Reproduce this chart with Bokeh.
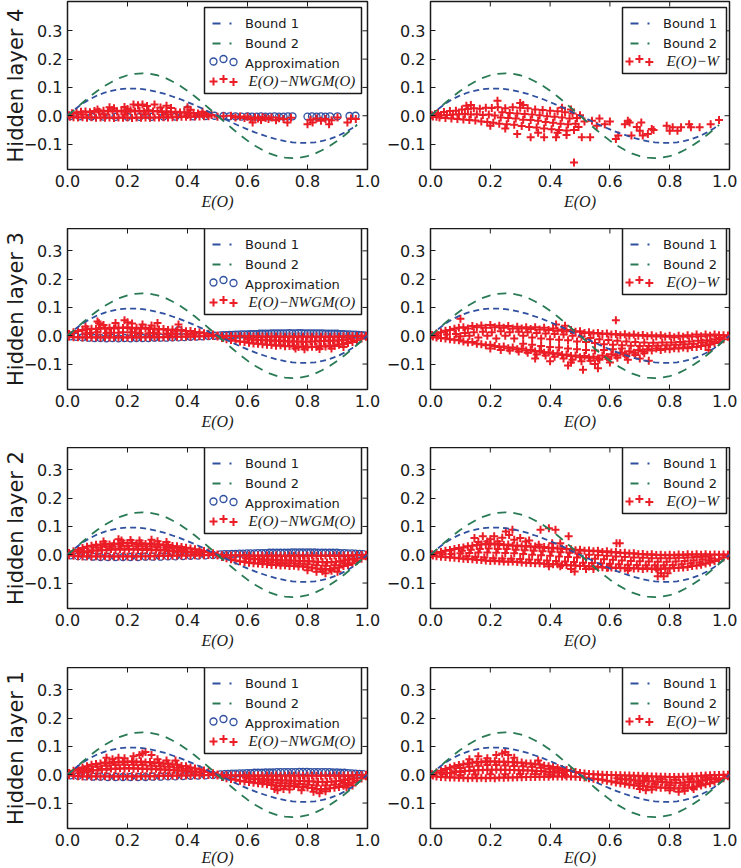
import math
from bokeh.plotting import figure
from bokeh.layouts import column, row
from bokeh.models import Legend, LegendItem, Label, FixedTicker, CustomJSTickFormatter, BoxAnnotation
from bokeh.embed import file_html
from bokeh.resources import INLINE

# ---------------- data ----------------
X_TICKS = [0.0, 0.2, 0.4, 0.6, 0.8, 1.0]
Y_TICKS = [-0.1, 0.0, 0.1, 0.2, 0.3]
ROW_LABELS = ["Hidden layer 4", "Hidden layer 3", "Hidden layer 2", "Hidden layer 1"]
X_LABEL = "E(O)"
LEFT_SERIES = "E(O)\u2212NWGM(O)"
RIGHT_SERIES = "E(O)\u2212W"

BOUND_X = [0, .025, .05, .075, .1, .125, .15, .175, .2, .225, .25, .275, .3, .325, .35, .375, .4, .425,
           .45, .475, .5, .525, .55, .575, .6, .625, .65, .675, .7, .725, .75, .775, .8, .825, .85, .875,
           .9, .925, .95, .975, 1.0]
BOUND1_Y = [0, .023, .043, .059, .072, .082, .089, .094, .096, .096, .094, .09, .084, .077, .068, .059, .048,
            .037, .025, .012, 0, -.012, -.025, -.037, -.048, -.059, -.068, -.077, -.084, -.09, -.094, -.096,
            -.096, -.094, -.089, -.082, -.072, -.059, -.043, -.023, 0]
BOUND2_Y = [0, .023, .046, .068, .088, .106, .121, .134, .143, .148, .15, .148, .143, .134, .121, .106, .088,
            .068, .046, .023, 0, -.023, -.046, -.068, -.088, -.106, -.121, -.134, -.143, -.148, -.15, -.148,
            -.143, -.134, -.121, -.106, -.088, -.068, -.046, -.023, 0]
# top row bounds stop at the largest E(O) of that layer
L4_BOUND_END = (.965, -.031, -.033)

L4_APPROX = [(.01, -.001), (.04, -.002), (.08, -.003), (.12, -.003), (.16, -.004), (.2, -.004), (.24, -.004),
             (.28, -.004), (.32, -.003), (.36, -.003), (.4, .022), (.42, -.002), (.46, -.001), (.49, 0),
             (.52, -.001), (.54, -.002), (.56, -.002), (.58, -.003), (.6, -.002), (.615, -.003), (.63, -.003),
             (.645, -.002), (.66, -.003), (.675, -.003), (.69, -.002), (.705, -.003), (.72, -.003),
             (.735, -.002), (.75, -.002), (.8, -.003), (.815, -.002), (.83, -.003), (.845, -.002),
             (.86, -.003), (.875, -.002), (.9, -.002), (.94, -.001), (.96, 0)]

L4_NWGM = [(.005, .002), (.008, -.004), (.015, .009), (.02, -.005), (.03, .012), (.035, -.006), (.045, .014),
           (.05, -.005), (.06, .015), (.065, -.007), (.075, .012), (.08, -.005), (.09, .017), (.095, -.007),
           (.105, .014), (.11, -.006), (.12, .018), (.125, -.007), (.135, .015), (.14, -.006), (.15, .019),
           (.155, -.008), (.165, .015), (.17, -.006), (.18, .018), (.185, -.007), (.195, .014), (.2, -.006),
           (.21, .019), (.215, -.008), (.225, .015), (.23, -.006), (.24, .018), (.245, -.007), (.255, .014),
           (.26, -.006), (.27, .019), (.275, -.007), (.285, .015), (.29, -.006), (.3, .017), (.305, -.006),
           (.315, .013), (.32, -.005), (.33, .016), (.335, -.006), (.345, .012), (.35, -.005), (.36, .014),
           (.365, -.005), (.375, .011), (.38, -.004), (.39, .012), (.395, -.004), (.405, .009), (.41, -.004),
           (.42, .01), (.425, -.003), (.435, .008), (.44, -.003), (.45, .007), (.455, -.002), (.465, .005),
           (.47, -.002), (.48, .003),
           (.05, .004), (.12, .005), (.19, .004), (.26, .005), (.33, .004), (.4, .003),
           (.1, .022), (.14, .03), (.155, .026), (.19, .031), (.2, .024), (.22, .04), (.235, .037), (.25, .04),
           (.265, .034), (.29, .04), (.31, .029), (.33, .035), (.345, .027), (.4, .03), (.41, .021), (.45, .014),
           (.5, -.004), (.52, -.002), (.545, 0), (.56, -.006), (.575, -.003), (.59, -.008), (.6, -.004),
           (.61, -.012), (.617, -.024), (.625, -.006), (.635, -.01), (.645, -.015), (.65, -.005), (.66, -.008),
           (.67, -.012), (.68, -.006), (.695, -.016), (.705, -.009), (.72, -.012), (.733, -.024), (.745, -.007),
           (.8, -.03), (.81, -.014), (.817, -.024), (.83, -.01), (.845, -.018), (.86, -.012), (.872, -.03),
           (.88, -.016), (.9, -.006), (.933, -.024), (.945, -.01), (.961, -.012)]

L4_W = [(.005, .002), (.008, -.003), (.015, .006), (.02, -.004), (.025, .01), (.03, -.006), (.035, .002),
        (.045, .013), (.05, -.008), (.055, .003), (.065, .017), (.07, -.01), (.075, .004), (.085, .018),
        (.09, -.012), (.095, .005), (.105, .022), (.11, -.013), (.115, .006), (.125, .024), (.13, -.015),
        (.135, .004), (.145, .026), (.15, -.017), (.155, .005), (.165, .025), (.17, -.02), (.175, .003),
        (.185, .028), (.19, -.022), (.195, .004), (.205, .027), (.21, -.025), (.215, .001), (.225, .03),
        (.23, -.028), (.235, -.006), (.24, .012), (.25, .026), (.255, -.03), (.26, -.008), (.265, .01),
        (.275, .03), (.28, -.032), (.285, -.01), (.29, .008), (.3, .028), (.305, -.036), (.31, -.014),
        (.315, .006), (.325, .026), (.33, -.04), (.335, -.015), (.34, .004), (.35, .022), (.355, -.042),
        (.36, -.018), (.365, .002), (.375, .02), (.38, -.045), (.385, -.022), (.39, -.002), (.4, .018),
        (.405, -.048), (.41, -.025), (.415, -.004), (.425, .016), (.43, -.05), (.435, -.028), (.44, -.006),
        (.45, .012), (.455, -.052), (.46, -.03), (.465, -.01), (.475, .008), (.48, -.05), (.485, -.028),
        (.49, -.008), (.5, .002), (.495, -.04),
        (.224, .053), (.12, .035), (.135, .038), (.3, .045), (.31, .038), (.44, .028), (.47, .022),
        (.48, -.165), (.29, -.065), (.335, -.076), (.36, -.06), (.38, -.076), (.42, -.076), (.425, -.06),
        (.455, -.068), (.2, -.035), (.25, -.045),
        (.506, -.076), (.515, -.02), (.534, -.076), (.54, -.018), (.556, -.035), (.565, -.01), (.583, -.03),
        (.6, -.02), (.62, -.082), (.628, -.07), (.65, -.03), (.66, -.018), (.666, -.024), (.672, -.07),
        (.69, -.04), (.7, -.053), (.705, -.024), (.71, -.07), (.727, -.065), (.74, -.047), (.746, -.05),
        (.79, -.035), (.8, -.053), (.81, -.041), (.826, -.053), (.838, -.041), (.865, -.03), (.871, -.041),
        (.9, -.041), (.937, -.03), (.965, -.015)]

L3_APPROX = [(.01, -.002), (.03, -.004), (.05, -.006), (.07, -.007), (.09, -.008), (.11, -.008), (.13, -.009),
             (.15, -.008), (.17, -.009), (.19, -.008), (.21, -.009), (.23, -.008), (.25, -.008), (.27, -.008),
             (.29, -.007), (.31, -.007), (.33, -.007), (.35, -.006), (.37, -.006), (.37, .02), (.39, -.005),
             (.41, -.004), (.43, -.003), (.45, -.002), (.47, -.001), (.49, 0), (.51, .001), (.53, .002),
             (.55, .003), (.57, .004), (.59, .005), (.61, .006), (.63, .006), (.65, .007), (.67, .007),
             (.69, .008), (.71, .008), (.73, .008), (.75, .008), (.77, .009), (.79, .008), (.81, .008),
             (.83, .008), (.85, .008), (.87, .007), (.89, .007), (.91, .006), (.93, .005), (.95, .004),
             (.97, .003), (.99, .001)]
L3_APPROX_FILL = [(.52, .002), (.54, .003), (.56, .004), (.58, .005), (.6, .005), (.62, .006), (.64, .007),
                  (.66, .007), (.68, .008), (.7, .008), (.72, .008), (.74, .009), (.76, .008), (.78, .009),
                  (.8, .008), (.82, .008), (.84, .008), (.86, .007), (.88, .007), (.9, .007), (.92, .006),
                  (.94, .005), (.96, .004), (.98, .002)]

L3_NWGM = [(.005, -.003), (.005, .006), (.02, -.005), (.02, .012), (.035, -.005), (.035, .017), (.05, -.006),
           (.05, .02), (.065, -.005), (.065, .023), (.08, -.006), (.08, .025), (.095, -.005), (.095, .024),
           (.11, -.006), (.11, .027), (.125, -.005), (.125, .025), (.14, -.006), (.14, .028), (.155, -.005),
           (.155, .026), (.17, -.006), (.17, .029), (.185, -.005), (.185, .027), (.2, -.006), (.2, .03),
           (.215, -.005), (.215, .026), (.23, -.006), (.23, .028), (.245, -.005), (.245, .025), (.26, -.005),
           (.26, .027), (.275, -.005), (.275, .024), (.29, -.005), (.29, .026), (.305, -.005), (.305, .022),
           (.32, -.005), (.32, .024), (.335, -.004), (.335, .02), (.35, -.005), (.35, .022), (.365, -.004),
           (.365, .018), (.38, -.004), (.38, .02), (.395, -.003), (.395, .016), (.41, -.003), (.41, .017),
           (.425, -.003), (.425, .013), (.44, -.002), (.44, .012), (.455, -.002), (.455, .009), (.47, -.001),
           (.47, .007), (.485, -.001), (.485, .004),
           (.06, .008), (.13, .01), (.21, .012), (.27, .009), (.33, .007), (.4, .006), (.1, .012), (.17, .011),
           (.24, .01), (.3, .008), (.36, .007),
           (.1, .05), (.105, .044), (.16, .045), (.19, .055), (.2, .048), (.215, .043), (.3, .045), (.37, .04),
           (.25, .04), (.12, .038), (.06, .033), (.28, .036),
           (.5, .001), (.5, -.003), (.515, -.001), (.515, -.008), (.53, -.001), (.53, -.012), (.545, -.001),
           (.545, -.015), (.56, -.002), (.56, -.018), (.575, -.002), (.575, -.02), (.59, -.002), (.59, -.022),
           (.605, -.002), (.605, -.025), (.62, -.003), (.62, -.027), (.635, -.002), (.635, -.028),
           (.65, -.003), (.65, -.03), (.665, -.003), (.665, -.032), (.68, -.003), (.68, -.033), (.695, -.003),
           (.695, -.035), (.71, -.003), (.71, -.034), (.725, -.004), (.725, -.037), (.74, -.003), (.74, -.036),
           (.755, -.004), (.755, -.038), (.77, -.003), (.77, -.04), (.785, -.004), (.785, -.038), (.8, -.003),
           (.8, -.041), (.815, -.004), (.815, -.039), (.83, -.003), (.83, -.04), (.845, -.004), (.845, -.037),
           (.86, -.003), (.86, -.038), (.875, -.004), (.875, -.035), (.89, -.003), (.89, -.036), (.905, -.003),
           (.905, -.032), (.92, -.002), (.92, -.03), (.935, -.002), (.935, -.026), (.95, -.001), (.95, -.022),
           (.965, -.001), (.965, -.016), (.98, 0), (.98, -.01), (.995, 0), (.995, -.004),
           (.6, -.012), (.63, -.014), (.66, -.016), (.69, -.018), (.72, -.019), (.75, -.02), (.78, -.021),
           (.81, -.02), (.84, -.019), (.87, -.018), (.9, -.017), (.93, -.013),
           (.79, -.048), (.84, -.047), (.88, -.045), (.92, -.04), (.76, -.045)]
L3_NWGM_FILL = [(.615, -.013), (.645, -.015), (.675, -.017), (.705, -.018), (.735, -.02), (.765, -.02),
                (.795, -.021), (.825, -.02), (.855, -.019), (.885, -.018), (.915, -.015), (.945, -.011),
                (.075, .01), (.145, .011), (.185, .012), (.225, .011), (.285, .01), (.345, .008), (.42, .006)]

L3_W = [(.005, .003), (.008, -.003), (.02, .008), (.02, -.006), (.025, .0), (.035, .012), (.035, -.008),
        (.05, .018), (.05, -.01), (.055, .004), (.065, .02), (.065, -.012), (.08, .025), (.08, -.014),
        (.085, .006), (.095, .028), (.095, -.016), (.1, -.002), (.11, .03), (.11, -.02), (.115, .01),
        (.125, .026), (.125, -.024), (.13, .0), (.14, .034), (.14, -.022), (.145, .012), (.155, .03),
        (.155, -.028), (.16, -.006), (.17, .036), (.17, -.03), (.175, .014), (.185, .028), (.185, -.034),
        (.19, .0), (.2, .038), (.2, -.032), (.205, .012), (.2, -.045), (.215, .03), (.215, -.036),
        (.22, -.01), (.23, .035), (.23, -.04), (.235, .016), (.235, -.05), (.245, .028), (.245, -.038),
        (.25, .0), (.26, .034), (.26, -.044), (.265, .012), (.265, -.052), (.275, .026), (.275, -.042),
        (.28, -.01), (.29, .032), (.29, -.048), (.295, .014), (.295, -.056), (.305, .026), (.305, -.046),
        (.31, .0), (.31, -.028), (.32, .03), (.32, -.052), (.325, .012), (.325, -.06), (.335, .024),
        (.335, -.05), (.34, -.006), (.34, -.032), (.35, .03), (.35, -.056), (.355, .01), (.355, -.066),
        (.365, .022), (.365, -.054), (.37, -.01), (.37, -.036), (.38, .028), (.38, -.06), (.385, .008),
        (.385, -.07), (.395, .02), (.395, -.058), (.4, -.012), (.4, -.04), (.41, .026), (.41, -.064),
        (.415, .006), (.415, -.074), (.425, .018), (.425, -.062), (.43, -.014), (.43, -.042), (.44, .022),
        (.44, -.068), (.445, .004), (.445, -.08), (.455, .016), (.455, -.066), (.46, -.016), (.46, -.045),
        (.47, .02), (.47, -.072), (.475, .0), (.475, -.085), (.485, .014), (.485, -.07), (.49, -.02),
        (.49, -.048), (.5, .016), (.5, -.076), (.505, -.004), (.505, -.09), (.515, .01), (.515, -.072),
        (.52, -.022), (.52, -.05), (.53, .012), (.53, -.078), (.535, -.008), (.535, -.088), (.545, .008),
        (.545, -.074), (.55, -.026), (.55, -.052), (.56, .01), (.56, -.08), (.565, -.012), (.565, -.085),
        (.575, .006), (.575, -.07), (.58, -.03), (.58, -.05), (.59, .008), (.59, -.075), (.595, -.015),
        (.595, -.082), (.605, .004), (.605, -.065), (.61, -.032), (.61, -.048), (.62, .006), (.62, -.07),
        (.625, -.018), (.625, -.078), (.635, .002), (.635, -.06), (.64, -.034), (.64, -.045), (.65, .005),
        (.65, -.065), (.655, -.02), (.655, -.072), (.665, .0), (.665, -.055), (.67, -.035), (.68, .004),
        (.68, -.06), (.685, -.022), (.685, -.068), (.695, .0), (.695, -.05), (.7, -.036), (.71, .003),
        (.71, -.055), (.715, -.024), (.715, -.062), (.725, -.002), (.725, -.048), (.73, -.036), (.74, .002),
        (.74, -.052), (.745, -.025), (.755, -.003), (.755, -.045), (.76, -.035), (.77, .002), (.77, -.05),
        (.775, -.024), (.785, -.004), (.785, -.046), (.79, -.034), (.8, .0), (.8, -.048), (.805, -.024),
        (.815, -.005), (.815, -.044), (.82, -.032), (.83, .0), (.83, -.045), (.835, -.022), (.845, -.004),
        (.845, -.042), (.85, -.03), (.86, .002), (.86, -.044), (.865, -.02), (.875, -.003), (.875, -.04),
        (.88, -.028), (.89, .004), (.89, -.04), (.895, -.018), (.905, -.002), (.905, -.036), (.91, -.024),
        (.92, .004), (.92, -.034), (.925, -.016), (.935, .0), (.935, -.03), (.94, -.02), (.95, .004),
        (.95, -.026), (.955, -.012), (.965, .002), (.965, -.02), (.97, -.008), (.98, .002), (.98, -.012),
        (.995, .001), (.995, -.004),
        (.1, .06), (.62, .055), (.51, -.12), (.56, -.115), (.46, -.105), (.47, -.095), (.42, .04), (.45, .035),
        (.35, -.08), (.4, -.09), (.55, -.1), (.6, -.095), (.66, -.085), (.7, -.08), (.73, -.088), (.93, -.05)]

L2_APPROX = [(.01, -.002), (.035, -.005), (.06, -.006), (.085, -.007), (.11, -.008), (.135, -.008),
             (.16, -.008), (.185, -.008), (.21, -.008), (.235, -.008), (.26, -.007), (.285, -.007),
             (.31, -.007), (.335, -.006), (.36, -.006), (.385, -.005), (.41, -.004), (.435, -.003),
             (.46, -.002), (.485, -.001), (.51, .001), (.535, .002), (.56, .003), (.585, .004), (.61, .005),
             (.635, .006), (.66, .006), (.685, .007), (.71, .007), (.735, .007), (.76, .008), (.785, .008),
             (.81, .008), (.835, .007), (.86, .007), (.885, .007), (.91, .006), (.935, .005), (.96, .004),
             (.985, .002)]
L2_APPROX_FILL = [(.523, .002), (.548, .003), (.573, .004), (.598, .005), (.623, .005), (.648, .006),
                  (.673, .007), (.698, .007), (.723, .007), (.748, .008), (.773, .008), (.798, .008),
                  (.823, .008), (.848, .007), (.873, .007), (.898, .007), (.923, .006), (.948, .005),
                  (.973, .003)]

L2_NWGM = [(.005, -.002), (.005, .006), (.02, -.004), (.02, .012), (.035, -.005), (.035, .018), (.04, .007),
           (.05, -.006), (.05, .024), (.065, -.005), (.065, .028), (.07, .01), (.08, -.006), (.08, .032),
           (.095, -.005), (.095, .035), (.1, .014), (.11, -.006), (.11, .034), (.125, -.005), (.125, .038),
           (.13, .016), (.14, -.006), (.14, .036), (.155, -.005), (.155, .04), (.16, .018), (.17, -.006),
           (.17, .038), (.185, -.005), (.185, .042), (.19, .018), (.2, -.006), (.2, .04), (.215, -.005),
           (.215, .042), (.22, .018), (.23, -.006), (.23, .038), (.245, -.005), (.245, .041), (.25, .017),
           (.26, -.005), (.26, .038), (.275, -.005), (.275, .04), (.28, .016), (.29, -.005), (.29, .036),
           (.305, -.004), (.305, .037), (.31, .015), (.32, -.004), (.32, .034), (.335, -.004), (.335, .035),
           (.34, .013), (.35, -.004), (.35, .031), (.365, -.003), (.365, .03), (.37, .011), (.38, -.003),
           (.38, .027), (.395, -.003), (.395, .025), (.4, .01), (.41, -.003), (.41, .022), (.425, -.002),
           (.425, .019), (.43, .007), (.44, -.002), (.44, .016), (.455, -.002), (.455, .013), (.47, -.001),
           (.47, .009), (.485, -.001), (.485, .005),
           (.17, .055), (.18, .05), (.28, .053), (.3, .048), (.24, .05), (.12, .047), (.21, .052), (.33, .045),
           (.5, .001), (.5, -.003), (.515, -.002), (.515, -.008), (.53, -.002), (.53, -.012), (.545, -.003),
           (.545, -.016), (.56, -.002), (.56, -.02), (.575, -.003), (.575, -.023), (.59, -.003), (.59, -.026),
           (.595, -.012), (.605, -.003), (.605, -.028), (.62, -.004), (.62, -.03), (.625, -.015), (.635, -.003),
           (.635, -.031), (.65, -.004), (.65, -.033), (.655, -.017), (.665, -.003), (.665, -.034), (.68, -.004),
           (.68, -.036), (.685, -.018), (.695, -.003), (.695, -.035), (.71, -.004), (.71, -.038), (.715, -.02),
           (.725, -.004), (.725, -.037), (.74, -.003), (.74, -.04), (.745, -.02), (.755, -.004), (.755, -.039),
           (.77, -.003), (.77, -.042), (.775, -.022), (.785, -.004), (.785, -.041), (.8, -.004), (.8, -.044),
           (.805, -.023), (.815, -.003), (.815, -.046), (.83, -.004), (.83, -.049), (.835, -.025), (.845, -.004),
           (.845, -.05), (.86, -.003), (.86, -.052), (.865, -.027), (.875, -.004), (.875, -.05), (.89, -.003),
           (.89, -.048), (.895, -.025), (.905, -.004), (.905, -.045), (.92, -.003), (.92, -.04), (.925, -.02),
           (.935, -.003), (.935, -.036), (.95, -.002), (.95, -.03), (.955, -.015), (.965, -.002), (.965, -.022),
           (.98, -.001), (.98, -.014), (.995, 0), (.995, -.005),
           (.83, -.06), (.86, -.065), (.9, -.06), (.88, -.057), (.85, -.058), (.8, -.055)]
L2_NWGM_FILL = [(.055, .012), (.085, .016), (.115, .018), (.145, .02), (.175, .02), (.205, .021), (.235, .02),
                (.265, .02), (.295, .018), (.325, .017), (.355, .015), (.385, .013), (.415, .011), (.445, .008),
                (.1, .026), (.13, .028), (.15, .03), (.18, .03), (.2, .031), (.23, .03), (.25, .03), (.28, .029),
                (.3, .028), (.33, .026), (.35, .024), (.38, .02),
                (.61, -.014), (.64, -.016), (.67, -.018), (.7, -.019), (.73, -.02), (.76, -.021), (.79, -.022),
                (.82, -.024), (.85, -.026), (.88, -.026), (.91, -.023), (.94, -.017),
                (.65, -.024), (.68, -.027), (.71, -.029), (.74, -.03), (.77, -.032), (.8, -.034), (.83, -.037),
                (.86, -.039), (.89, -.037), (.92, -.03)]

L2_W = [(.005, .002), (.008, -.003), (.02, .006), (.02, -.005), (.035, .01), (.035, -.007), (.04, .002),
        (.05, .014), (.05, -.008), (.065, .017), (.065, -.01), (.07, .003), (.08, .02), (.08, -.011),
        (.095, .024), (.095, -.012), (.1, .005), (.11, .026), (.11, -.014), (.125, .03), (.125, -.015),
        (.13, .006), (.14, .032), (.14, -.016), (.155, .034), (.155, -.018), (.16, .008), (.17, .036),
        (.17, -.019), (.185, .038), (.185, -.02), (.19, .008), (.2, .04), (.2, -.022), (.215, .036),
        (.215, -.021), (.22, .007), (.23, .038), (.23, -.023), (.245, .034), (.245, -.024), (.25, .006),
        (.26, .036), (.26, -.025), (.275, .032), (.275, -.024), (.28, .005), (.29, .033), (.29, -.026),
        (.305, .03), (.305, -.027), (.31, .003), (.32, .031), (.32, -.028), (.335, .028), (.335, -.029),
        (.34, .0), (.35, .029), (.35, -.03), (.365, .026), (.365, -.03), (.37, -.002), (.38, .027),
        (.38, -.032), (.395, .024), (.395, -.033), (.4, -.004), (.41, .025), (.41, -.034), (.425, .022),
        (.425, -.034), (.43, -.006), (.44, .022), (.44, -.036), (.455, .02), (.455, -.036), (.46, -.008),
        (.47, .019), (.47, -.038), (.485, .016), (.485, -.038), (.49, -.01), (.5, .017), (.5, -.04),
        (.515, .014), (.515, -.04), (.52, -.012), (.53, .015), (.53, -.042), (.545, .012), (.545, -.042),
        (.55, -.014), (.56, .014), (.56, -.044), (.575, .01), (.575, -.044), (.58, -.016), (.59, .012),
        (.59, -.046), (.605, .008), (.605, -.045), (.61, -.018), (.62, .01), (.62, -.047), (.635, .006),
        (.635, -.046), (.64, -.02), (.65, .007), (.65, -.048), (.665, .004), (.665, -.047), (.67, -.022),
        (.68, .005), (.68, -.049), (.695, .002), (.695, -.048), (.7, -.023), (.71, .003), (.71, -.05),
        (.725, .0), (.725, -.048), (.73, -.024), (.74, .002), (.74, -.05), (.755, -.001), (.755, -.049),
        (.76, -.025), (.77, .0), (.77, -.05), (.785, -.002), (.785, -.048), (.79, -.025), (.8, .0),
        (.8, -.049), (.815, -.002), (.815, -.047), (.82, -.024), (.83, .001), (.83, -.046), (.845, -.001),
        (.845, -.045), (.85, -.022), (.86, .002), (.86, -.043), (.875, .0), (.875, -.04), (.88, -.02),
        (.89, .002), (.89, -.038), (.905, .0), (.905, -.035), (.91, -.017), (.92, .002), (.92, -.031),
        (.935, .0), (.935, -.027), (.94, -.013), (.95, .001), (.95, -.022), (.965, .0), (.965, -.016),
        (.98, .001), (.98, -.01), (.995, 0), (.995, -.004),
        (.147, .059), (.175, .065), (.19, .047), (.213, .065), (.224, .047), (.252, .082), (.263, .07),
        (.274, .088), (.28, .053), (.3, .059), (.318, .047), (.362, .035), (.368, .088), (.396, .094),
        (.418, .088), (.407, .041), (.462, .065), (.434, .041), (.5, .018), (.622, .041), (.633, .041),
        (.16, .045), (.2, .055), (.24, .06), (.33, .05),
        (.482, -.059), (.396, -.041), (.434, -.041), (.545, -.05), (.594, -.045), (.76, -.053), (.76, -.076),
        (.771, -.065), (.78, -.076), (.793, -.065), (.66, -.055), (.52, -.05), (.47, -.05)]
L2_W_FILL = [(.105, .014), (.135, .018), (.165, .02), (.195, .022), (.225, .02), (.255, .02), (.285, .018),
             (.315, .016), (.345, .014), (.375, .012), (.405, .011), (.435, .009), (.465, .007), (.495, .004),
             (.12, -.006), (.15, -.008), (.18, -.01), (.21, -.012), (.24, -.013), (.27, -.014), (.3, -.015),
             (.33, -.017), (.36, -.018), (.39, -.02), (.42, -.022), (.45, -.024), (.48, -.026), (.51, -.028),
             (.54, -.029), (.57, -.03), (.6, -.032), (.63, -.034), (.66, -.035), (.69, -.036), (.72, -.037),
             (.75, -.037), (.78, -.037), (.81, -.036), (.84, -.034), (.87, -.03), (.9, -.027), (.93, -.02),
             (.53, .0), (.56, -.002), (.59, -.004), (.62, -.006), (.65, -.008), (.68, -.01), (.71, -.011),
             (.74, -.012), (.77, -.012), (.8, -.012), (.83, -.011), (.86, -.01), (.89, -.008), (.92, -.006)]

L1_APPROX = [(.01, -.002), (.035, -.004), (.06, -.006), (.085, -.007), (.11, -.007), (.135, -.008),
             (.16, -.008), (.185, -.008), (.21, -.008), (.235, -.008), (.26, -.008), (.285, -.007),
             (.31, -.007), (.335, -.006), (.36, -.006), (.385, -.005), (.41, -.004), (.435, -.003),
             (.46, -.002), (.485, -.001), (.51, .001), (.535, .003), (.56, .004), (.585, .005), (.61, .006),
             (.635, .007), (.66, .008), (.685, .008), (.71, .009), (.735, .009), (.76, .009), (.785, .01),
             (.81, .009), (.835, .009), (.86, .009), (.885, .008), (.91, .007), (.935, .006), (.96, .004),
             (.985, .002)]
L1_APPROX_FILL = [(.523, .002), (.548, .004), (.573, .005), (.598, .006), (.623, .007), (.648, .007),
                  (.673, .008), (.698, .009), (.723, .009), (.748, .009), (.773, .01), (.798, .01),
                  (.823, .009), (.848, .009), (.873, .009), (.898, .008), (.923, .007), (.948, .005),
                  (.973, .003)]

L1_NWGM = [(.005, -.002), (.005, .006), (.02, -.004), (.02, .014), (.035, -.005), (.035, .02), (.04, .007),
           (.05, -.006), (.05, .026), (.065, -.005), (.065, .03), (.07, .011), (.08, -.006), (.08, .035),
           (.095, -.005), (.095, .038), (.1, .015), (.11, -.006), (.11, .04), (.125, -.005), (.125, .043),
           (.13, .018), (.14, -.006), (.14, .041), (.155, -.005), (.155, .045), (.16, .02), (.17, -.006),
           (.17, .043), (.185, -.005), (.185, .047), (.19, .021), (.2, -.006), (.2, .045), (.215, -.005),
           (.215, .048), (.22, .021), (.23, -.006), (.23, .044), (.245, -.005), (.245, .047), (.25, .02),
           (.26, -.005), (.26, .043), (.275, -.005), (.275, .045), (.28, .019), (.29, -.005), (.29, .041),
           (.305, -.004), (.305, .043), (.31, .018), (.32, -.004), (.32, .039), (.335, -.004), (.335, .04),
           (.34, .016), (.35, -.004), (.35, .036), (.365, -.003), (.365, .035), (.37, .014), (.38, -.003),
           (.38, .031), (.395, -.003), (.395, .03), (.4, .012), (.41, -.003), (.41, .026), (.425, -.002),
           (.425, .022), (.43, .009), (.44, -.002), (.44, .019), (.455, -.002), (.455, .015), (.47, -.001),
           (.47, .01), (.485, -.001), (.485, .005),
           (.13, .06), (.17, .06), (.24, .07), (.25, .075), (.26, .08), (.28, .07), (.22, .065), (.15, .055),
           (.19, .058), (.3, .055), (.33, .05), (.36, .05),
           (.5, .001), (.5, -.003), (.515, -.002), (.515, -.008), (.53, -.002), (.53, -.012), (.545, -.003),
           (.545, -.015), (.56, -.002), (.56, -.018), (.575, -.003), (.575, -.021), (.59, -.003), (.59, -.024),
           (.595, -.011), (.605, -.003), (.605, -.026), (.62, -.004), (.62, -.028), (.625, -.014), (.635, -.003),
           (.635, -.03), (.65, -.004), (.65, -.032), (.655, -.016), (.665, -.003), (.665, -.034), (.68, -.004),
           (.68, -.036), (.685, -.018), (.695, -.003), (.695, -.038), (.71, -.004), (.71, -.04), (.715, -.02),
           (.725, -.004), (.725, -.039), (.74, -.003), (.74, -.042), (.745, -.021), (.755, -.004), (.755, -.04),
           (.77, -.003), (.77, -.043), (.775, -.022), (.785, -.004), (.785, -.042), (.8, -.004), (.8, -.045),
           (.805, -.023), (.815, -.003), (.815, -.047), (.83, -.004), (.83, -.05), (.835, -.025), (.845, -.004),
           (.845, -.052), (.86, -.003), (.86, -.05), (.865, -.025), (.875, -.004), (.875, -.048), (.89, -.003),
           (.89, -.046), (.895, -.023), (.905, -.004), (.905, -.043), (.92, -.003), (.92, -.039), (.925, -.019),
           (.935, -.003), (.935, -.034), (.95, -.002), (.95, -.028), (.955, -.013), (.965, -.002),
           (.965, -.021), (.98, -.001), (.98, -.013), (.995, 0), (.995, -.005),
           (.7, -.055), (.72, -.05), (.74, -.052), (.82, -.06), (.84, -.065), (.86, -.058), (.93, -.045),
           (.95, -.038), (.69, -.05), (.78, -.055)]
L1_NWGM_FILL = [(.055, .013), (.085, .017), (.115, .02), (.145, .022), (.175, .023), (.205, .024), (.235, .023),
                (.265, .022), (.295, .021), (.325, .019), (.355, .017), (.385, .015), (.415, .012), (.445, .009),
                (.07, .02), (.1, .028), (.13, .032), (.16, .034), (.19, .035), (.22, .035), (.25, .034),
                (.28, .032), (.31, .03), (.34, .028), (.37, .025), (.4, .021),
                (.61, -.014), (.64, -.016), (.67, -.018), (.7, -.019), (.73, -.02), (.76, -.021), (.79, -.022),
                (.82, -.024), (.85, -.026), (.88, -.025), (.91, -.022), (.94, -.016),
                (.65, -.024), (.68, -.027), (.71, -.03), (.74, -.031), (.77, -.033), (.8, -.035), (.83, -.038),
                (.86, -.038), (.89, -.035), (.92, -.029)]

L1_W = [(.005, .002), (.008, -.003), (.02, .008), (.02, -.006), (.035, .014), (.035, -.008), (.04, .003),
        (.05, .02), (.05, -.009), (.065, .025), (.065, -.01), (.07, .006), (.08, .03), (.08, -.01),
        (.095, .034), (.095, -.011), (.1, .01), (.11, .037), (.11, -.011), (.125, .04), (.125, -.012),
        (.13, .013), (.14, .042), (.14, -.011), (.155, .046), (.155, -.012), (.16, .016), (.17, .044),
        (.17, -.011), (.185, .048), (.185, -.012), (.19, .018), (.2, .046), (.2, -.011), (.215, .048),
        (.215, -.012), (.22, .018), (.23, .045), (.23, -.01), (.245, .047), (.245, -.011), (.25, .018),
        (.26, .044), (.26, -.01), (.275, .045), (.275, -.01), (.28, .017), (.29, .042), (.29, -.009),
        (.305, .043), (.305, -.009), (.31, .016), (.32, .04), (.32, -.008), (.335, .04), (.335, -.008),
        (.34, .015), (.35, .037), (.35, -.008), (.365, .036), (.365, -.007), (.37, .013), (.38, .032),
        (.38, -.007), (.395, .03), (.395, -.007), (.4, .011), (.41, .027), (.41, -.006), (.425, .024),
        (.425, -.006), (.43, .008), (.44, .02), (.44, -.006), (.455, .017), (.455, -.006), (.47, .013),
        (.47, -.006), (.485, .01), (.485, -.007), (.5, .006), (.5, -.008), (.515, .004), (.515, -.01),
        (.53, .003), (.53, -.012), (.545, .002), (.545, -.014), (.56, .001), (.56, -.016), (.575, .0),
        (.575, -.018), (.59, -.001), (.59, -.021), (.605, -.001), (.605, -.024), (.62, -.002), (.62, -.027),
        (.625, -.012), (.635, -.002), (.635, -.03), (.65, -.003), (.65, -.032), (.655, -.016), (.665, -.003),
        (.665, -.035), (.68, -.004), (.68, -.037), (.685, -.02), (.695, -.004), (.695, -.039), (.71, -.005),
        (.71, -.04), (.715, -.022), (.725, -.005), (.725, -.042), (.74, -.006), (.74, -.043), (.745, -.024),
        (.755, -.006), (.755, -.044), (.77, -.007), (.77, -.046), (.775, -.026), (.785, -.007), (.785, -.045),
        (.8, -.008), (.8, -.047), (.805, -.027), (.815, -.008), (.815, -.048), (.83, -.008), (.83, -.049),
        (.835, -.028), (.845, -.007), (.845, -.048), (.86, -.007), (.86, -.046), (.865, -.026), (.875, -.006),
        (.875, -.044), (.89, -.005), (.89, -.042), (.895, -.023), (.905, -.004), (.905, -.038), (.92, -.003),
        (.92, -.034), (.925, -.018), (.935, -.002), (.935, -.03), (.95, -.001), (.95, -.025), (.955, -.012),
        (.965, -.001), (.965, -.019), (.98, 0), (.98, -.012), (.995, 0), (.995, -.005),
        (.16, .065), (.22, .07), (.24, .075), (.25, .08), (.26, .07), (.28, .06), (.36, .05), (.13, .055),
        (.19, .058), (.7, -.05), (.72, -.055), (.74, -.052), (.83, -.06), (.85, -.057), (.8, -.055), (.88, -.05)]
L1_W_FILL = [(.055, .006), (.085, .012), (.115, .014), (.145, .016), (.175, .017), (.205, .018), (.235, .018),
             (.265, .017), (.295, .016), (.325, .015), (.355, .013), (.385, .011), (.415, .009), (.445, .007),
             (.1, .024), (.13, .028), (.16, .032), (.19, .034), (.22, .034), (.25, .033), (.28, .031), (.31, .03),
             (.34, .028), (.37, .025), (.4, .021), (.43, .016),
             (.1, -.002), (.15, .001), (.2, .002), (.25, .002), (.3, .003), (.35, .002), (.4, .001), (.45, .0),
             (.64, -.016), (.67, -.018), (.7, -.021), (.73, -.023), (.76, -.025), (.79, -.027), (.82, -.028),
             (.85, -.027), (.88, -.025), (.91, -.02), (.94, -.015),
             (.7, -.03), (.75, -.034), (.8, -.037), (.85, -.037), (.9, -.031),
             (.72, -.013), (.77, -.016), (.82, -.018), (.87, -.016), (.92, -.01)]

# ---------------- styling / layout ----------------
BLUE = "#2f4f9f"
GREEN = "#2a7b55"
RED = "#eb1d26"
INK = "#1a1a1a"
Y_MIN = -0.19
ROW_YMAX = [0.4036, 0.379, 0.379, 0.379]
ROW_FRAME_H = [168, 161, 161, 161]
ROW_TOP = [1, 0, 0, 0]
ROW_BOTTOM = [59, 58, 59, 40]
ROW_XLABEL_STANDOFF = [3, 3, 3, 0]
ROW_LEGEND_DROP = [6, 0, 0, 0]
TICK_FMT = "return (tick < -1e-9 ? '\u2212' : '') + Math.abs(tick).toFixed(1);"
# legend handle layout: three markers, the middle one raised (screen px offsets)
HANDLE_OFFSETS = [(-10, -1.0), (0, 1.5), (10, -1.5)]


def make_panel(rowi, left, red_pts, approx_pts, bx, b1, b2):
    frame_w = 300 if left else 302
    mbl = 67 if left else 44
    mbr = 16 if left else 8
    frame_h = ROW_FRAME_H[rowi]
    y_max = ROW_YMAX[rowi]
    h = ROW_TOP[rowi] + frame_h + ROW_BOTTOM[rowi]
    p = figure(width=mbl + frame_w + mbr, height=h, x_range=(0, 1), y_range=(Y_MIN, y_max),
               output_backend="svg", toolbar_location=None,
               min_border_left=mbl, min_border_right=mbr, min_border_top=ROW_TOP[rowi],
               min_border_bottom=ROW_BOTTOM[rowi])
    p.xgrid.visible = False
    p.ygrid.visible = False
    p.outline_line_color = INK
    p.outline_line_width = 1.5
    p.background_fill_color = "white"
    p.border_fill_color = "white"
    for ax in (p.xaxis[0], p.yaxis[0]):
        ax.axis_line_color = None
        ax.major_tick_in = 5
        ax.major_tick_out = 0
        ax.major_tick_line_color = INK
        ax.major_tick_line_width = 1
        ax.minor_tick_line_color = None
        ax.major_label_text_font = "DejaVu Sans"
        ax.major_label_text_font_size = "16px"
        ax.major_label_text_color = INK
        ax.formatter = CustomJSTickFormatter(code=TICK_FMT)
    xa, ya = p.xaxis[0], p.yaxis[0]
    xa.ticker = FixedTicker(ticks=X_TICKS)
    ya.ticker = FixedTicker(ticks=Y_TICKS)
    xa.major_label_standoff = 5
    ya.major_label_standoff = 5
    xa.axis_label = X_LABEL
    xa.axis_label_text_font = "Liberation Serif"
    xa.axis_label_text_font_style = "italic"
    xa.axis_label_text_font_size = "16px"
    xa.axis_label_text_color = INK
    xa.axis_label_standoff = ROW_XLABEL_STANDOFF[rowi]
    if left:
        ya.axis_label = ROW_LABELS[rowi]
        ya.axis_label_text_font = "DejaVu Sans"
        ya.axis_label_text_font_style = "normal"
        ya.axis_label_text_font_size = "21px"
        ya.axis_label_text_color = INK
        ya.axis_label_standoff = -7

    # mirrored inward ticks on the top and right edges
    dy = 5 * (y_max - Y_MIN) / frame_h
    dx = 5 / frame_w
    p.segment(x0=X_TICKS, y0=[y_max] * len(X_TICKS), x1=X_TICKS, y1=[y_max - dy] * len(X_TICKS),
              line_color=INK, line_width=1)
    p.segment(x0=[1.0] * len(Y_TICKS), y0=Y_TICKS, x1=[1.0 - dx] * len(Y_TICKS), y1=Y_TICKS,
              line_color=INK, line_width=1)

    if approx_pts is not None:
        p.scatter([q[0] for q in approx_pts], [q[1] for q in approx_pts], marker="circle",
                  size=7, fill_color=None, line_color=BLUE, line_width=1.3)
    p.scatter([q[0] for q in red_pts], [q[1] for q in red_pts], marker="cross", size=8,
              line_color=RED, line_width=2.0)
    p.line(bx, b1, line_color=BLUE, line_dash="6 4", line_width=1.8)
    p.line(bx, b2, line_color=GREEN, line_dash="9 7", line_width=1.8)

    # ----- legend -----
    s1 = p.line(bx[:1], b1[:1], line_color=BLUE, line_dash="0 8 8 9 2 40", line_width=1.8)
    s2 = p.line(bx[:1], b2[:1], line_color=GREEN, line_dash="0 8 8 9 2 40", line_width=1.8)
    blank = p.line(bx[:1], b1[:1], line_alpha=0.0)
    items = [LegendItem(label="Bound 1", renderers=[s1]), LegendItem(label="Bound 2", renderers=[s2])]
    if approx_pts is not None:
        items.append(LegendItem(label="Approximation", renderers=[blank]))
    items.append(LegendItem(label=" ", renderers=[blank]))
    n = len(items)
    pad, gw, stand = 3, 32, 9
    lw = 110 if left else 57
    box_w = 2 * pad + gw + stand + lw
    box_h = 2 * pad + 20 * n
    lx = frame_w - 6 - box_w
    ly = frame_h - box_h - ROW_LEGEND_DROP[rowi]
    p.add_layout(BoxAnnotation(left=lx, right=lx + box_w, bottom=ly, top=ly + box_h,
                               left_units="screen", right_units="screen", bottom_units="screen",
                               top_units="screen", fill_color="white", fill_alpha=1.0,
                               line_color=INK, line_width=1.5, line_alpha=1.0))
    p.add_layout(Label(x=lx + pad + gw + stand, y=ly + pad + 10, x_units="screen", y_units="screen",
                       text=LEFT_SERIES if left else RIGHT_SERIES, text_font="Liberation Serif",
                       text_font_style="italic", text_font_size="15px", text_color=INK,
                       text_align="left", text_baseline="middle"))
    leg = Legend(items=items, location=(lx, ly), orientation="vertical", padding=pad, margin=0,
                 spacing=0, glyph_width=gw, glyph_height=20, label_height=20, label_width=lw,
                 label_standoff=stand, label_text_font="DejaVu Sans", label_text_font_size="13px",
                 label_text_color=INK, border_line_color=None, background_fill_alpha=0.0)
    p.add_layout(leg)

    # "ooo" / "+++" handles, placed from the legend geometry (screen px -> data units)
    def to_data(sx, sy):
        return sx / frame_w, Y_MIN + sy * (y_max - Y_MIN) / frame_h
    cx = lx + pad + gw / 2

    def handle(item_index):
        cy = ly + box_h - pad - 10 - 20 * item_index
        pts = [to_data(cx + ox, cy + oy) for ox, oy in HANDLE_OFFSETS]
        return [q[0] for q in pts], [q[1] for q in pts]

    if approx_pts is not None:
        hx, hy = handle(2)
        p.scatter(hx, hy, marker="circle", size=7, fill_color=None, line_color=BLUE, line_width=1.3,
                  level="overlay")
    hx, hy = handle(n - 1)
    p.scatter(hx, hy, marker="cross", size=8, line_color=RED, line_width=2.0, level="overlay")
    return p


L4_BX = BOUND_X[:39] + [L4_BOUND_END[0]]
L4_B1 = BOUND1_Y[:39] + [L4_BOUND_END[1]]
L4_B2 = BOUND2_Y[:39] + [L4_BOUND_END[2]]

panels = [
    (L4_NWGM, L4_APPROX, L4_W, L4_BX, L4_B1, L4_B2),
    (L3_NWGM + L3_NWGM_FILL, L3_APPROX + L3_APPROX_FILL, L3_W, BOUND_X, BOUND1_Y, BOUND2_Y),
    (L2_NWGM + L2_NWGM_FILL, L2_APPROX + L2_APPROX_FILL, L2_W + L2_W_FILL, BOUND_X, BOUND1_Y, BOUND2_Y),
    (L1_NWGM + L1_NWGM_FILL, L1_APPROX + L1_APPROX_FILL, L1_W + L1_W_FILL, BOUND_X, BOUND1_Y, BOUND2_Y),
]

rows = []
for i, (nwgm, approx, wpts, bx, b1, b2) in enumerate(panels):
    pl = make_panel(i, True, nwgm, approx, bx, b1, b2)
    pr = make_panel(i, False, wpts, None, bx, b1, b2)
    rows.append(row(pl, pr))

layout = column(*rows)
open("out.html", "w").write(file_html(layout, INLINE, "Bounds"))
